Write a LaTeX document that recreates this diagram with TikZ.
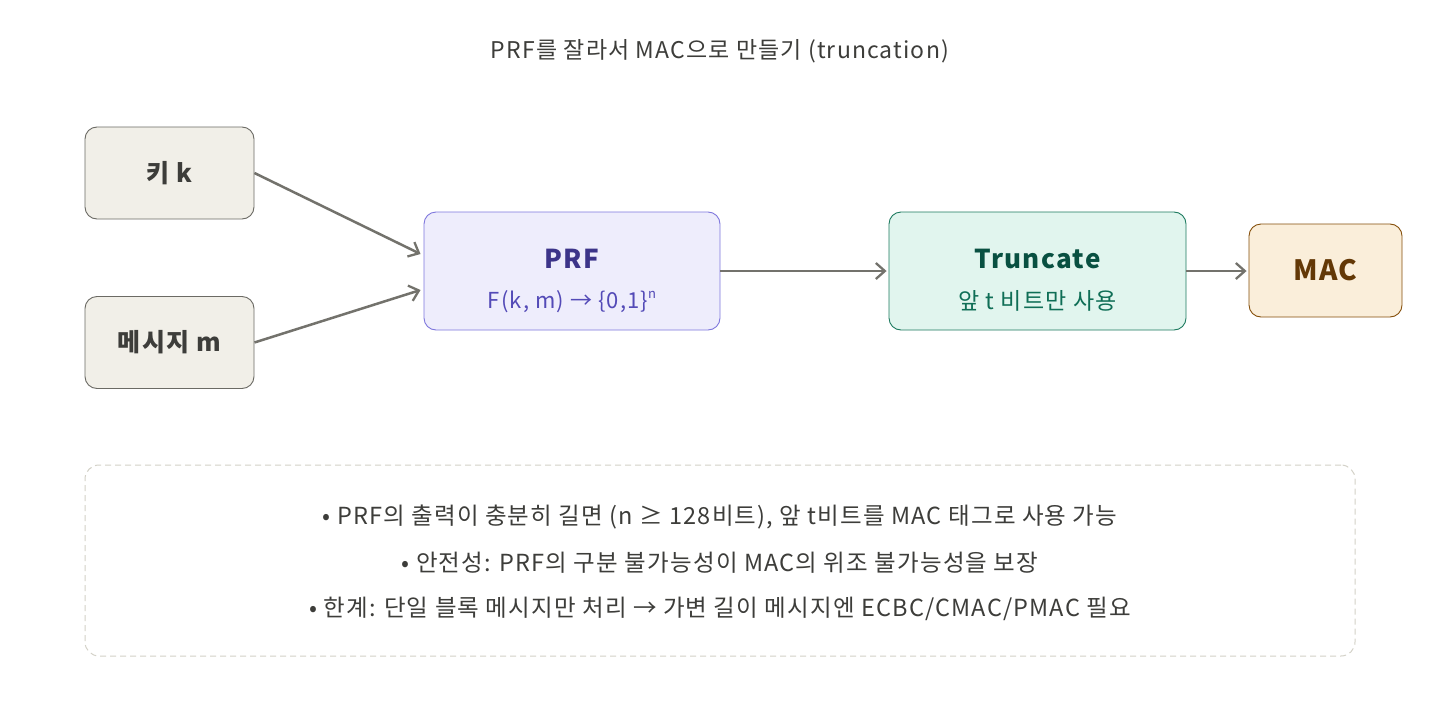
\documentclass[tikz,border=0pt]{standalone}
\usepackage{fontspec}
\setmainfont{Noto Sans CJK KR}[LetterSpace=5]
\usetikzlibrary{arrows.meta}
\definecolor{grayfill}{HTML}{F1EFE8}
\definecolor{graydraw}{HTML}{6B6A64}
\definecolor{graytext}{HTML}{3D3D3A}
\definecolor{prffill}{HTML}{EEEDFC}
\definecolor{prfdraw}{HTML}{7F77DD}
\definecolor{prftitle}{HTML}{3C3489}
\definecolor{prfsub}{HTML}{534AB7}
\definecolor{trfill}{HTML}{E1F5EE}
\definecolor{trdraw}{HTML}{1D7A5F}
\definecolor{trtitle}{HTML}{085041}
\definecolor{trsub}{HTML}{0F6E56}
\definecolor{macfill}{HTML}{FAEEDA}
\definecolor{macdraw}{HTML}{854F0B}
\definecolor{mactext}{HTML}{633806}
\definecolor{arrowc}{HTML}{73726C}
\definecolor{dashc}{HTML}{D3D1C7}
\definecolor{bodytext}{HTML}{3D3D3A}
\tikzset{
  box/.style={draw, rounded corners=12pt, line width=0.9pt, inner sep=0pt, align=center},
  graybox/.style={box, fill=grayfill, draw=graydraw, text=graytext, minimum width=169pt, minimum height=92pt, font=\fontsize{25}{28}\selectfont\bfseries},
  conn/.style={draw=arrowc, line width=2.5pt, -{Straight Barb[length=9pt,width=16pt,line width=2.3pt]}},
  bodyfont/.style={text=bodytext, font=\fontsize{23.5}{27}\selectfont},
}
\begin{document}
\begin{tikzpicture}[x=1pt,y=-1pt]
\useasboundingbox[fill=white] (0,0) rectangle (1440,720);
\node[text=graytext, font=\fontsize{23}{26}\selectfont] (title) at (720,51) {PRF를 잘라서 MAC으로 만들기 (truncation)};
\node[graybox] (key) at (169.5,173) {키 k};
\node[graybox] (msg) at (169.5,342.5) {메시지 m};
\node[box, fill=prffill, draw=prfdraw, minimum width=296pt, minimum height=118pt] (prf) at (572,271) {};
\node[text=prftitle, font=\fontsize{26}{30}\selectfont\bfseries] (prft) at (572,259) {PRF};
\node[text=prfsub, font=\fontsize{22}{26}\selectfont] (prfs) at (572,302) {F(k, m) → \{0,1\}\raisebox{0.45em}{\fontsize{13}{13}\selectfont n}};
\node[box, fill=trfill, draw=trdraw, minimum width=297pt, minimum height=118pt] (tr) at (1037.5,271) {};
\node[text=trtitle, font=\fontsize{26}{30}\selectfont\bfseries] (trt) at (1037.5,259) {Truncate};
\node[text=trsub, font=\fontsize{23}{26}\selectfont] (trs) at (1037.5,301) {앞 t 비트만 사용};
\node[box, fill=macfill, draw=macdraw, text=mactext, minimum width=153pt, minimum height=93pt, font=\fontsize{28}{32}\selectfont\bfseries] (mac) at (1325.5,270.5) {MAC};
\draw[conn] (key.east) -- ([xshift=-3pt,yshift=17pt]prf.west);
\draw[conn] (msg.east) -- ([xshift=-3pt,yshift=-19pt]prf.west);
\draw[conn] (prf.east) -- ([xshift=-2pt]prf.east -| tr.west);
\draw[conn] (tr.east) -- ([xshift=-2pt]tr.east -| mac.west);
\node[draw=dashc, dashed, dash pattern=on 6pt off 4pt, line width=1pt, rounded corners=14pt, minimum width=1270pt, minimum height=191pt] (notes) at (720,560.5) {};
\node[bodyfont] (b1) at (720,517) {• PRF의 출력이 충분히 길면 (n ≥ 128비트), 앞 t비트를 MAC 태그로 사용 가능};
\node[bodyfont] (b2) at (720,563) {• 안전성: PRF의 구분 불가능성이 MAC의 위조 불가능성을 보장};
\node[bodyfont] (b3) at (720,609) {• 한계: 단일 블록 메시지만 처리 → 가변 길이 메시지엔 ECBC/CMAC/PMAC 필요};
\end{tikzpicture}
\end{document}
